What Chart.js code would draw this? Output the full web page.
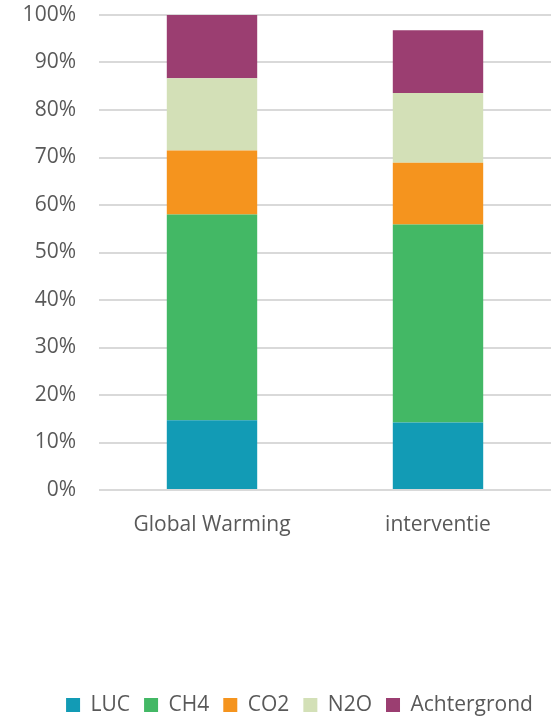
<!DOCTYPE html>
<html>
<head>
<meta charset="utf-8">
<script src="https://cdn.jsdelivr.net/npm/chart.js@4/dist/chart.umd.min.js"></script>
<style>
  html, body { margin: 0; padding: 0; background: #fff; }
  #wrap { width: 551px; height: 719px; }
</style>
</head>
<body>
<div id="wrap"><canvas id="ghgChart"></canvas></div>
<script>
// bijdrage per broeikasgas (% van totaal)
const categories = ['Global Warming', 'interventie'];
const luc = [14.7, 14.2];
const ch4 = [43.3, 41.7];
const co2 = [13.5, 13.0];
const n2o = [15.2, 14.7];
const achtergrond = [13.3, 13.2];

const textColor = '#595959';
const fontFamily = '"Open Sans", "Liberation Sans", sans-serif';

// legenda iets naar rechts, gecentreerd onder de grafiek i.p.v. het canvas
const legendOffset = {
  id: 'legendOffset',
  afterLayout(chart) {
    if (chart.legend) chart.legend.left = 48;
  }
};

new Chart(document.getElementById('ghgChart'), {
  type: 'bar',
  data: {
    labels: categories,
    datasets: [
      { label: 'LUC', data: luc, backgroundColor: '#129bb5' },
      { label: 'CH4', data: ch4, backgroundColor: '#43b865' },
      { label: 'CO2', data: co2, backgroundColor: '#f5941e' },
      { label: 'N2O', data: n2o, backgroundColor: '#d3e0b7' },
      { label: 'Achtergrond', data: achtergrond, backgroundColor: '#9b3e71' }
    ]
  },
  plugins: [legendOffset],
  options: {
    responsive: true,
    maintainAspectRatio: false,
    animation: false,
    layout: { padding: { top: 15, right: 0, bottom: -6.5, left: 0 } },
    datasets: {
      bar: { categoryPercentage: 0.4, barPercentage: 1 }
    },
    plugins: {
      tooltip: { enabled: false },
      legend: {
        position: 'bottom',
        labels: {
          color: textColor,
          font: { family: fontFamily, size: 21 },
          boxWidth: 14,
          boxHeight: 14,
          padding: 14
        }
      }
    },
    scales: {
      x: {
        stacked: true,
        grid: { display: false },
        border: { display: false },
        ticks: { color: textColor, font: { family: fontFamily, size: 21 }, padding: 14 },
        afterFit: function(scale) { scale.height = 190.5; }
      },
      y: {
        stacked: true,
        min: 0,
        max: 100,
        border: { display: false },
        grid: { color: '#d9d9d9', lineWidth: 2, drawTicks: false },
        ticks: {
          stepSize: 10,
          color: textColor,
          font: { family: fontFamily, size: 21 },
          padding: 23,
          callback: function(value) { return value + '%'; }
        },
        afterFit: function(scale) {
          scale.width = 99;
          // geen extra ruimte boven/onder voor de labels
          scale.paddingTop = 0;
          scale.paddingBottom = 0;
        }
      }
    }
  }
});
</script>
</body>
</html>
